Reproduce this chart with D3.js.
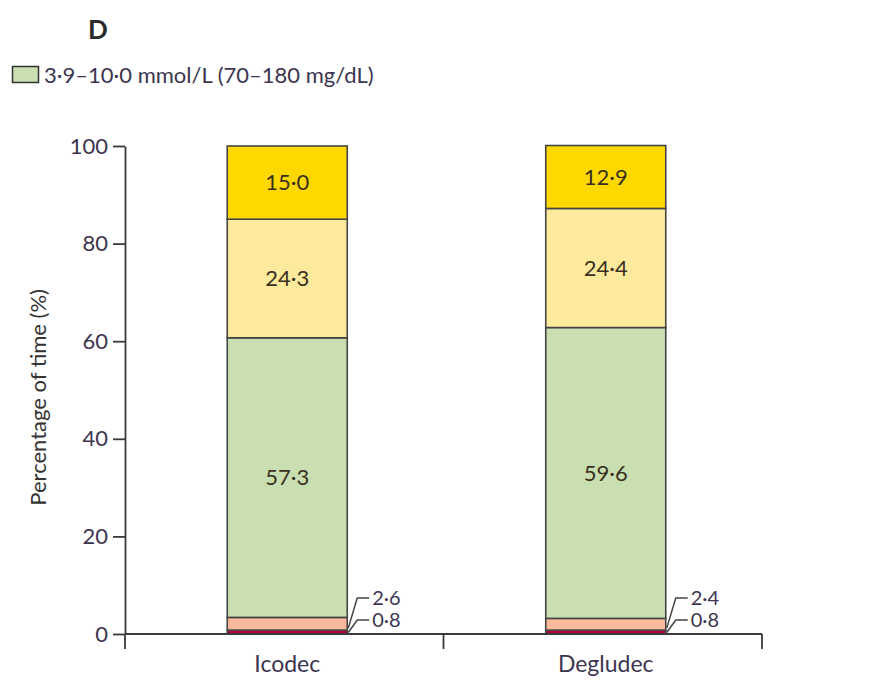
<!DOCTYPE html>
<html>
<head>
<meta charset="utf-8">
<script src="https://cdn.jsdelivr.net/npm/d3@7"></script>
<style>
  body { margin: 0; background: #fff; }
  svg text { font-family: Lato, "Open Sans", sans-serif; }
</style>
</head>
<body>
<svg id="chart" width="871" height="685"></svg>
<script>
// Time in glucose ranges, per treatment arm (% of time)
const categories = ["Icodec", "Degludec"];
const rangeKeys = ["lt3", "r3to39", "r39to10", "r10to139", "gt139"];
const veryLow   = [0.8, 0.8];
const low       = [2.6, 2.4];
const inRange   = [57.3, 59.6];
const high      = [24.3, 24.4];
const veryHigh  = [15.0, 12.9];
const yTicks = [0, 20, 40, 60, 80, 100];
const legendLabel = "3·9–10·0 mmol/L (70–180 mg/dL)";

const fills = {
  lt3: "#b3003b",
  r3to39: "#fbb99b",
  r39to10: "#c9dfb1",
  r10to139: "#feea9c",
  gt139: "#ffd800"
};

const fmt = v => v.toFixed(1).replace(".", "·");

const rows = categories.map((c, i) => ({
  cat: c,
  lt3: veryLow[i], r3to39: low[i], r39to10: inRange[i],
  r10to139: high[i], gt139: veryHigh[i]
}));
const series = d3.stack().keys(rangeKeys)(rows);

const svg = d3.select("#chart");
const x = d3.scaleBand().domain(categories).range([125, 762]);
const y = d3.scaleLinear().domain([0, 100]).range([634, 146]);
const barW = 120;
const barX = c => x(c) + x.bandwidth() / 2 - barW / 2 + 3;

const ink = "#3a3a3a";
const tickInk = "#3b3550";
const fs = 22;

// Title and legend
svg.append("text").attr("x", 88).attr("y", 39)
  .attr("font-size", 26).attr("font-weight", "bold").attr("fill", "#2a2a2a").text("D");
svg.append("rect").attr("x", 12.5).attr("y", 66.5).attr("width", 26).attr("height", 16)
  .attr("fill", fills.r39to10).attr("stroke", "#333").attr("stroke-width", 1.5);
svg.append("text").attr("x", 44).attr("y", 83).attr("font-size", fs)
  .attr("fill", tickInk).text(legendLabel);

// Y axis
const yAxis = svg.append("g").attr("transform", "translate(125,0)")
  .call(d3.axisLeft(y).tickValues(yTicks).tickSize(12).tickPadding(5).tickSizeOuter(0));
yAxis.select(".domain").attr("stroke", ink).attr("stroke-width", 1.8);
yAxis.selectAll(".tick line").attr("stroke", ink).attr("stroke-width", 1.8);
yAxis.selectAll(".tick text").attr("font-size", fs).attr("fill", tickInk)
  .attr("font-family", "Lato, 'Open Sans', sans-serif");

svg.append("text")
  .attr("transform", `translate(46,${y(48.5)}) rotate(-90)`)
  .attr("text-anchor", "middle").attr("font-size", fs).attr("fill", "#333")
  .text("Percentage of time (%)");

// Bars
const g = svg.append("g");
series.forEach(s => {
  g.selectAll(null).data(s).join("rect")
    .attr("x", d => barX(d.data.cat))
    .attr("y", d => y(d[1]))
    .attr("width", barW)
    .attr("height", d => y(d[0]) - y(d[1]))
    .attr("fill", fills[s.key])
    .attr("stroke", "#444").attr("stroke-width", 1.6);
});

// Value labels inside the larger segments
series.filter(s => ["r39to10", "r10to139", "gt139"].includes(s.key)).forEach(s => {
  g.selectAll(null).data(s).join("text")
    .attr("x", d => barX(d.data.cat) + barW / 2)
    .attr("y", d => y((d[0] + d[1]) / 2))
    .attr("dy", "0.35em")
    .attr("text-anchor", "middle").attr("font-size", fs).attr("fill", "#3a3020")
    .text(d => fmt(d[1] - d[0]));
});

// Leader lines for the thin bottom segments
const callouts = [
  { key: "r3to39", vals: low, ly: 598, from: 1.2 },
  { key: "lt3", vals: veryLow, ly: 620, from: 0.3 }
];
categories.forEach((c, i) => {
  const xr = barX(c) + barW;
  callouts.forEach(co => {
    svg.append("path")
      .attr("d", `M${xr + 1},${y(co.from)} L${xr + 10},${co.ly} L${xr + 22},${co.ly}`)
      .attr("fill", "none").attr("stroke", "#444").attr("stroke-width", 1.5);
    svg.append("text").attr("x", xr + 25).attr("y", co.ly).attr("dy", "0.36em")
      .attr("font-size", 20).attr("fill", tickInk).text(fmt(co.vals[i]));
  });
});

// X axis
const xAxis = svg.append("g").attr("transform", "translate(0,634)");
xAxis.append("line").attr("x1", 125).attr("x2", 762).attr("y1", 0).attr("y2", 0)
  .attr("stroke", ink).attr("stroke-width", 1.8);
const bounds = [125, x(categories[1]), 762];
xAxis.selectAll(null).data(bounds).join("line")
  .attr("x1", d => d).attr("x2", d => d).attr("y1", 0).attr("y2", 15)
  .attr("stroke", ink).attr("stroke-width", 1.8);
xAxis.selectAll(null).data(categories).join("text")
  .attr("x", c => barX(c) + barW / 2).attr("y", 38)
  .attr("text-anchor", "middle").attr("font-size", 23).attr("fill", tickInk)
  .text(c => c);
</script>
</body>
</html>
